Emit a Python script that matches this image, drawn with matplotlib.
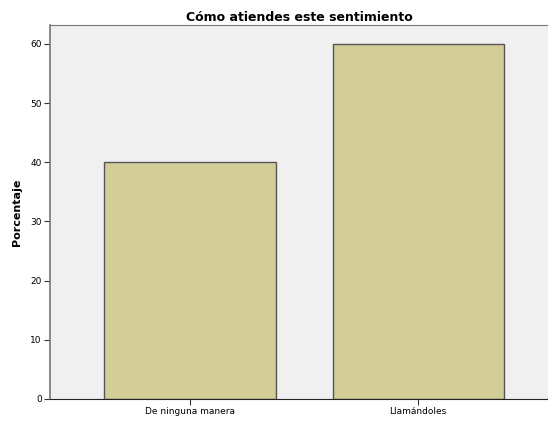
import matplotlib.pyplot as plt
plt.switch_backend('Agg')

categories = ['De ninguna manera', 'Llamándoles']
porcentaje = [40, 60]
y_ticks = [0, 10, 20, 30, 40, 50, 60]

fig = plt.figure(figsize=(5.48, 4.21), dpi=100)
ax = fig.add_axes([50 / 548, 22 / 421, 498 / 548, 374 / 421])
ax.set_facecolor('#f0f0f0')

ax.bar(range(len(categories)), porcentaje, width=0.75, color='#d3ce98',
       edgecolor='#555555', linewidth=1.0, zorder=2)

ax.set_xlim(-0.614, 1.57)
ax.set_ylim(0, 63.2)
ax.set_yticks(y_ticks)
ax.set_xticks(range(len(categories)))
ax.set_xticklabels(categories)
ax.tick_params(axis='both', labelsize=6.5, length=4, width=0.8, color='#333333', pad=2)

for side in ['right']:
    ax.spines[side].set_visible(False)
ax.spines['top'].set_color('#777777')
ax.spines['left'].set_color('#777777')
ax.spines['bottom'].set_color('#222222')
ax.spines['left'].set_linewidth(1.2)

ax.set_ylabel('Porcentaje', fontsize=8, fontweight='bold', labelpad=6)
ax.set_title('Cómo atiendes este sentimiento', fontsize=9, fontweight='bold', pad=3)

plt.savefig('out.png', dpi=100)
